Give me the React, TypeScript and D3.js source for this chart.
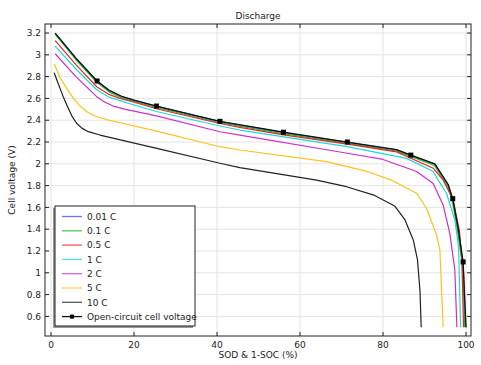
import React from 'react'
import * as d3 from 'd3'

// series data: SOD (%) and cell voltage (V)
const ocvSod = [1.0, 6, 11.1, 14, 17, 20, 25.4, 40.7, 56.0, 71.4, 83.3, 86.7, 92.5, 95.7, 96.8, 98.1, 99.3, 100]
const ocvV = [3.2, 2.97, 2.76, 2.675, 2.62, 2.585, 2.53, 2.39, 2.29, 2.2, 2.13, 2.08, 2.0, 1.81, 1.68, 1.41, 1.1, 0.5]

const markSod = [11.1, 25.4, 40.7, 56.0, 71.4, 86.7, 96.8, 99.3]
const markV = [2.76, 2.53, 2.39, 2.29, 2.2, 2.08, 1.68, 1.1]

const c001Sod = [1.0, 6, 11.1, 14, 17, 20, 25.4, 40.7, 56.0, 71.4, 83.3, 86.7, 92.5, 95.7, 96.8, 98.1, 99.3, 99.9]
const c001V = [3.198, 2.967, 2.757, 2.672, 2.617, 2.582, 2.527, 2.387, 2.287, 2.197, 2.127, 2.077, 1.996, 1.805, 1.675, 1.4, 1.09, 0.5]

const c01Sod = [1.0, 6, 11.1, 14, 17, 20, 25.4, 40.7, 56.0, 71.4, 83.3, 86.7, 92.4, 95.6, 96.7, 98.0, 99.2, 99.7]
const c01V = [3.19, 2.955, 2.745, 2.66, 2.606, 2.572, 2.517, 2.377, 2.277, 2.187, 2.117, 2.068, 1.985, 1.79, 1.66, 1.38, 1.05, 0.5]

const c05Sod = [1.0, 6, 11.0, 13.8, 16.6, 20, 25.4, 40.7, 45.5, 56.0, 71.4, 83.3, 92.1, 94.5, 96.9, 98.4, 99.0, 99.4]
const c05V = [3.13, 2.91, 2.707, 2.64, 2.6, 2.565, 2.505, 2.37, 2.335, 2.265, 2.18, 2.11, 1.96, 1.85, 1.67, 1.39, 1.12, 0.5]

const c1Sod = [1.0, 6, 11.0, 13.8, 16.6, 20, 25.4, 40.7, 45.5, 71.4, 85.7, 92.1, 93.3, 95.3, 97.3, 98.2, 98.7]
const c1V = [3.08, 2.87, 2.68, 2.615, 2.58, 2.54, 2.48, 2.347, 2.31, 2.157, 2.05, 1.93, 1.85, 1.73, 1.485, 1.24, 0.5]

const c2Sod = [1.0, 6, 11.0, 13.0, 15.0, 18.0, 25.4, 40.7, 45.5, 71.4, 80.0, 88.1, 92.1, 94.5, 96.1, 97.3, 97.8]
const c2V = [3.01, 2.8, 2.616, 2.565, 2.53, 2.5, 2.44, 2.294, 2.264, 2.097, 2.04, 1.93, 1.82, 1.62, 1.36, 1.03, 0.5]

const c5Sod = [0.8, 2.2, 3.8, 5.4, 7.0, 8.6, 9.8, 11.0, 14.0, 25.4, 40.7, 45.5, 66.4, 76.1, 82.1, 88.1, 90.5, 92.9, 93.7, 94.5]
const c5V = [2.915, 2.79, 2.69, 2.60, 2.53, 2.48, 2.453, 2.432, 2.40, 2.3, 2.157, 2.127, 2.02, 1.93, 1.85, 1.73, 1.59, 1.347, 1.21, 0.5]

const c10Sod = [0.75, 1.5, 2.2, 3.0, 3.8, 5.0, 6.2, 7.5, 9.0, 11.8, 25.5, 40.7, 45.5, 64.0, 71.2, 78.0, 82.9, 85.3, 87.3, 88.3, 88.9, 89.2]
const c10V = [2.835, 2.76, 2.69, 2.61, 2.54, 2.44, 2.37, 2.325, 2.295, 2.264, 2.142, 2.005, 1.965, 1.85, 1.79, 1.71, 1.61, 1.485, 1.3, 1.12, 0.84, 0.5]

const seriesNames = ['0.01 C', '0.1 C', '0.5 C', '1 C', '2 C', '5 C', '10 C']
const seriesColors = ['#2b4cff', '#1fb41f', '#e8262a', '#1fd8d8', '#cc2ecc', '#ffc21a', '#222222']
const seriesSod = [c001Sod, c01Sod, c05Sod, c1Sod, c2Sod, c5Sod, c10Sod]
const seriesV = [c001V, c01V, c05V, c1V, c2V, c5V, c10V]

const xTicks = [0, 20, 40, 60, 80, 100]
const yTicks = [0.6, 0.8, 1, 1.2, 1.4, 1.6, 1.8, 2, 2.2, 2.4, 2.6, 2.8, 3, 3.2]

const W = 481
const H = 365
const left = 45
const right = 471
const top = 24
const bottom = 336

const font = '"DejaVu Sans", Verdana, sans-serif'

const App = () => {
    const x = d3.scaleLinear().domain([-1.45, 101.2]).range([left, right])
    const y = d3.scaleLinear().domain([0.42, 3.283]).range([bottom, top])

    const line = d3
          .line<[number, number]>()
          .x(d => x(d[0]))
          .y(d => y(d[1]))

    const paths = seriesSod.map((sods, i) => {
        const pts = sods.map((s, j) => [s, seriesV[i][j]] as [number, number])
        return (
            <path key={seriesNames[i]} d={line(pts) || ''} fill="none"
                  stroke={seriesColors[i]} strokeWidth={1.2} strokeLinejoin="round" />
        )
    })
    const ocvPts = ocvSod.map((s, j) => [s, ocvV[j]] as [number, number])

    const legX = 55
    const legY = 206
    const legW = 140
    const legH = 120
    const rowH = 14.3
    const legNames = [...seriesNames, 'Open-circuit cell voltage']

    return (
        <svg width={W} height={H} style={{ position: 'absolute', left: 0, top: 0 }}
             fontFamily={font}>
            <rect width={W} height={H} fill="#fff" />
            {/* grid */}
            {xTicks.map(t => (
                <line key={`gx${t}`} x1={x(t)} x2={x(t)} y1={top} y2={bottom} stroke="#e4e4e4" strokeWidth={1} />
            ))}
            {yTicks.map(t => (
                <line key={`gy${t}`} x1={left} x2={right} y1={y(t)} y2={y(t)} stroke="#e4e4e4" strokeWidth={1} />
            ))}
            {/* curves */}
            {paths}
            <path d={line(ocvPts) || ''} fill="none" stroke="#111" strokeWidth={1.3} strokeLinejoin="round" />
            {markSod.map((s, i) => (
                <rect key={`m${i}`} x={x(s) - 2.5} y={y(markV[i]) - 2.5} width={5} height={5} fill="#000" />
            ))}
            {/* frame and ticks */}
            <rect x={left} y={top} width={right - left} height={bottom - top} fill="none" stroke="#222" strokeWidth={1} />
            {xTicks.map(t => (
                <g key={`tx${t}`}>
                    <line x1={x(t)} x2={x(t)} y1={bottom} y2={bottom - 4} stroke="#222" />
                    <line x1={x(t)} x2={x(t)} y1={top} y2={top + 4} stroke="#222" />
                    <text x={x(t)} y={348} fontSize={9} textAnchor="middle" fill="#222">{t}</text>
                </g>
            ))}
            {yTicks.map(t => (
                <g key={`ty${t}`}>
                    <line x1={left} x2={left + 4} y1={y(t)} y2={y(t)} stroke="#222" />
                    <line x1={right} x2={right - 4} y1={y(t)} y2={y(t)} stroke="#222" />
                    <text x={41} y={y(t) + 3.2} fontSize={9} textAnchor="end" fill="#222">{String(t)}</text>
                </g>
            ))}
            {/* titles */}
            <text x={(left + right) / 2} y={19} fontSize={9} textAnchor="middle" fill="#222">Discharge</text>
            <text x={(left + right) / 2} y={358} fontSize={9} textAnchor="middle" fill="#222">SOD &amp; 1-SOC (%)</text>
            <text transform={`translate(12,${(top + bottom) / 2}) rotate(-90)`} fontSize={9}
                  textAnchor="middle" dominantBaseline="middle" fill="#222">Cell voltage (V)</text>
            {/* legend */}
            <rect x={legX - 2} y={legY + 2} width={legW} height={legH} fill="#999" />
            <rect x={legX} y={legY} width={legW} height={legH} fill="#fff" stroke="#222" strokeWidth={1} />
            {legNames.map((n, i) => {
                const ly = legY + 10.5 + i * rowH
                const isOcv = i === seriesNames.length
                return (
                    <g key={`l${n}`}>
                        <line x1={62} x2={82} y1={ly} y2={ly} stroke={isOcv ? '#111' : seriesColors[i]}
                              strokeWidth={1.3} opacity={isOcv ? 1 : 0.75} />
                        {isOcv && <rect x={70} y={ly - 2} width={4} height={4} fill="#000" />}
                        <text x={87} y={ly + 3.2} fontSize={9} fill="#222">{n}</text>
                    </g>
                )
            })}
        </svg>
    )
}

export default App
